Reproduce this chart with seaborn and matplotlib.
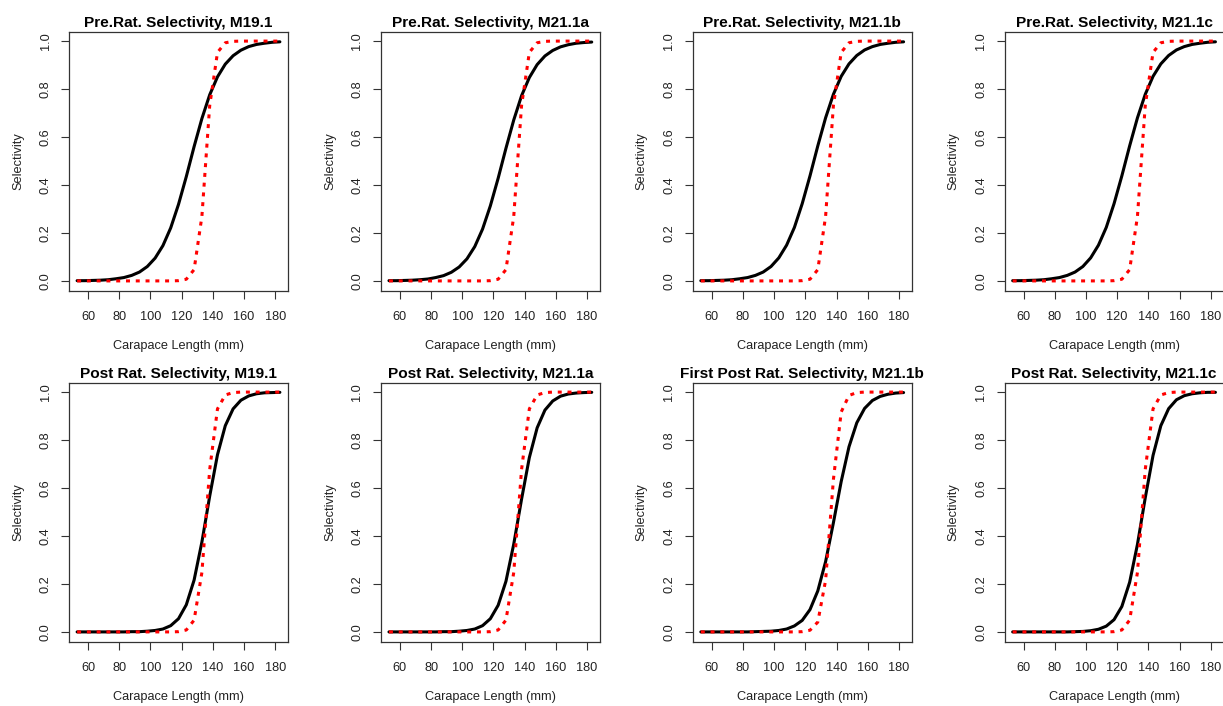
import matplotlib
matplotlib.use("Agg")
import matplotlib.pyplot as plt
import pandas as pd
import seaborn as sns

# ---------------- data ----------------
length_mm = [53, 58, 63, 68, 73, 78, 83, 88, 93, 98, 103, 108, 113, 118,
             123, 128, 133, 138, 143, 148, 153, 158, 163, 168, 173, 178, 183]

titles = ["Pre.Rat. Selectivity, M19.1", "Pre.Rat. Selectivity, M21.1a",
          "Pre.Rat. Selectivity, M21.1b", "Pre.Rat. Selectivity, M21.1c",
          "Post Rat. Selectivity, M19.1", "Post Rat. Selectivity, M21.1a",
          "First Post Rat. Selectivity, M21.1b", "Post Rat. Selectivity, M21.1c"]

# black solid curves (model selectivity)
pre_black_m191 = [0.001, 0.001, 0.002, 0.003, 0.005, 0.009, 0.014, 0.023, 0.037, 0.060, 0.095, 0.147, 0.221, 0.319,
                  0.435, 0.560, 0.677, 0.776, 0.851, 0.904, 0.939, 0.962, 0.977, 0.986, 0.991, 0.995, 0.997]
pre_black_m211a = [0.001, 0.001, 0.002, 0.003, 0.005, 0.008, 0.014, 0.022, 0.036, 0.058, 0.092, 0.143, 0.216, 0.313,
                   0.428, 0.553, 0.671, 0.772, 0.848, 0.902, 0.938, 0.961, 0.976, 0.985, 0.991, 0.994, 0.996]
pre_black_m211b = [0.001, 0.001, 0.002, 0.003, 0.005, 0.009, 0.014, 0.023, 0.037, 0.060, 0.096, 0.149, 0.223, 0.322,
                   0.438, 0.563, 0.680, 0.778, 0.853, 0.905, 0.940, 0.963, 0.977, 0.986, 0.991, 0.995, 0.997]
pre_black_m211c = [0.001, 0.001, 0.002, 0.003, 0.005, 0.009, 0.014, 0.023, 0.037, 0.060, 0.096, 0.149, 0.223, 0.322,
                   0.438, 0.563, 0.680, 0.778, 0.853, 0.905, 0.940, 0.963, 0.977, 0.986, 0.991, 0.995, 0.997]
post_black_m191 = [0.000, 0.000, 0.000, 0.000, 0.000, 0.000, 0.000, 0.001, 0.001, 0.003, 0.006, 0.012, 0.026, 0.055,
                   0.113, 0.216, 0.375, 0.566, 0.739, 0.860, 0.930, 0.966, 0.984, 0.993, 0.997, 0.998, 0.999]
post_black_m211a = [0.000, 0.000, 0.000, 0.000, 0.000, 0.000, 0.000, 0.001, 0.001, 0.003, 0.006, 0.012, 0.026, 0.055,
                    0.111, 0.211, 0.366, 0.553, 0.727, 0.851, 0.925, 0.963, 0.983, 0.992, 0.996, 0.998, 0.999]
post_black_m211b = [0.000, 0.000, 0.000, 0.000, 0.000, 0.000, 0.000, 0.001, 0.002, 0.003, 0.006, 0.012, 0.025, 0.048,
                    0.093, 0.171, 0.293, 0.455, 0.627, 0.772, 0.872, 0.932, 0.965, 0.982, 0.991, 0.996, 0.998]
post_black_m211c = [0.000, 0.000, 0.000, 0.000, 0.000, 0.000, 0.000, 0.000, 0.001, 0.002, 0.005, 0.011, 0.024, 0.051,
                    0.106, 0.207, 0.365, 0.559, 0.736, 0.860, 0.931, 0.968, 0.985, 0.993, 0.997, 0.999, 0.999]

# red dotted curves (comparison selectivity)
pre_red_m191 = [0, 0, 0, 0, 0, 0, 0, 0, 0, 0, 0, 0, 0, 0.001,
                0.007, 0.047, 0.269, 0.731, 0.953, 0.993, 0.999, 1, 1, 1, 1, 1, 1]
pre_red_m211a = [0, 0, 0, 0, 0, 0, 0, 0, 0, 0, 0, 0, 0, 0.001,
                 0.007, 0.047, 0.269, 0.731, 0.953, 0.993, 0.999, 1, 1, 1, 1, 1, 1]
pre_red_m211b = [0, 0, 0, 0, 0, 0, 0, 0, 0, 0, 0, 0, 0, 0.001,
                 0.007, 0.047, 0.269, 0.731, 0.953, 0.993, 0.999, 1, 1, 1, 1, 1, 1]
pre_red_m211c = [0, 0, 0, 0, 0, 0, 0, 0, 0, 0, 0, 0, 0, 0.001,
                 0.007, 0.047, 0.269, 0.731, 0.953, 0.993, 0.999, 1, 1, 1, 1, 1, 1]
post_red_m191 = [0, 0, 0, 0, 0, 0, 0, 0, 0, 0, 0, 0, 0, 0.001,
                 0.008, 0.049, 0.248, 0.677, 0.930, 0.988, 0.998, 1, 1, 1, 1, 1, 1]
post_red_m211a = [0, 0, 0, 0, 0, 0, 0, 0, 0, 0, 0, 0, 0, 0.001,
                  0.008, 0.049, 0.248, 0.677, 0.930, 0.988, 0.998, 1, 1, 1, 1, 1, 1]
post_red_m211b = [0, 0, 0, 0, 0, 0, 0, 0, 0, 0, 0, 0, 0, 0.001,
                  0.007, 0.041, 0.215, 0.635, 0.917, 0.986, 0.998, 1, 1, 1, 1, 1, 1]
post_red_m211c = [0, 0, 0, 0, 0, 0, 0, 0, 0, 0, 0, 0, 0, 0.001,
                  0.008, 0.049, 0.248, 0.677, 0.930, 0.988, 0.998, 1, 1, 1, 1, 1, 1]

black_series = [pre_black_m191, pre_black_m211a, pre_black_m211b, pre_black_m211c,
                post_black_m191, post_black_m211a, post_black_m211b, post_black_m211c]
red_series = [pre_red_m191, pre_red_m211a, pre_red_m211b, pre_red_m211c,
              post_red_m191, post_red_m211a, post_red_m211b, post_red_m211c]

x_ticks = [60, 80, 100, 120, 140, 160, 180]
y_ticks = [0.0, 0.2, 0.4, 0.6, 0.8, 1.0]
y_tick_labels = ["0.0", "0.2", "0.4", "0.6", "0.8", "1.0"]

# ---------------- styling ----------------
sns.set_style("ticks")
plt.rcParams["font.family"] = ["Liberation Sans", "DejaVu Sans"]

W, H = 1223, 706
fig = plt.figure(figsize=(W / 100, H / 100), dpi=100)

col_left_px = 69.0
col_step_px = 311.85
box_w_px = 219.0
row_top_px = [31.5, 382.5]
box_h_px = 259.0

text_col = "#222222"

for i, (title, blk, red) in enumerate(zip(titles, black_series, red_series)):
    r, c = divmod(i, 4)
    left = (col_left_px + c * col_step_px) / W
    bottom = 1 - (row_top_px[r] + box_h_px) / H
    ax = fig.add_axes([left, bottom, box_w_px / W, box_h_px / H])

    df = pd.DataFrame({"length": length_mm, "black": blk, "red": red})
    sns.lineplot(data=df, x="length", y="black", ax=ax, color="black",
                 linewidth=2.2, estimator=None, sort=False)
    sns.lineplot(data=df, x="length", y="red", ax=ax, color="#FF0000",
                 linewidth=2.2, estimator=None, sort=False)
    ax.lines[-1].set_linestyle((0, (1.3, 1.9)))

    ax.set_xlim(47.8, 188.2)
    ax.set_ylim(-0.04, 1.04)
    ax.set_xticks(x_ticks)
    ax.set_xticklabels([str(t) for t in x_ticks])
    ax.set_yticks(y_ticks)
    ax.set_yticklabels(y_tick_labels, rotation=90, va="center")

    ax.tick_params(axis="both", length=5.5, width=0.8, color="#333333",
                   labelsize=9.2, labelcolor=text_col)
    ax.tick_params(axis="x", pad=9)
    ax.tick_params(axis="y", pad=7)
    for sp in ax.spines.values():
        sp.set_visible(True)
        sp.set_color("#333333")
        sp.set_linewidth(0.9)
    if c == 3:
        ax.spines["right"].set_visible(False)

    ax.set_title(title, fontsize=11.1, fontweight="bold", pad=3, color="black")
    ax.set_xlabel("Carapace Length (mm)", fontsize=9.2, color=text_col)
    ax.set_ylabel("Selectivity", fontsize=9.2, color=text_col)
    ax.xaxis.set_label_coords(0.5, -0.19)
    ax.yaxis.set_label_coords(-0.205, 0.5)

fig.savefig("out.png", dpi=100)
